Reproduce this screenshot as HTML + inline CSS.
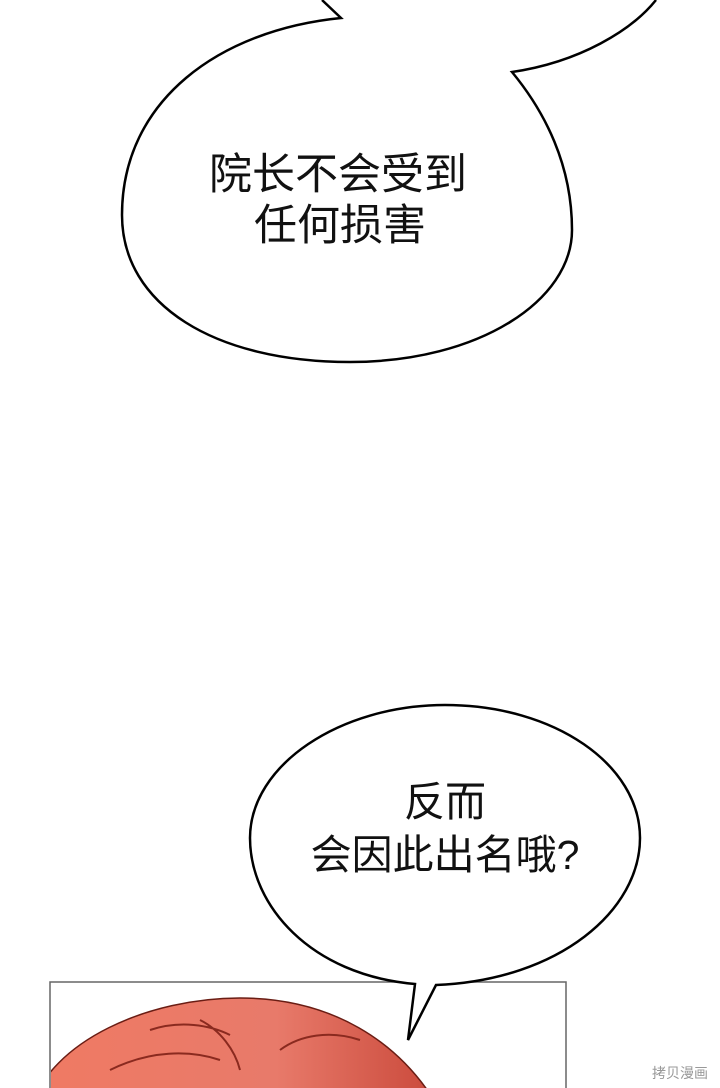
<!DOCTYPE html>
<html><head><meta charset="utf-8"><style>
html,body{margin:0;padding:0;background:#fff;}
svg{display:block}
text{font-family:"Liberation Sans","Noto Sans CJK SC",sans-serif;fill:#111;}
</style></head><body>
<svg width="720" height="1088" viewBox="0 0 720 1088" xmlns="http://www.w3.org/2000/svg">
<defs>
<linearGradient id="hair" x1="0" y1="0" x2="1" y2="0">
<stop offset="0" stop-color="#f07a63"/><stop offset="0.6" stop-color="#e87a6a"/><stop offset="1" stop-color="#c9483a"/>
</linearGradient>
</defs>
<rect width="720" height="1088" fill="#fff"/>
<path d="M 322 0 L 341 18 C 220 30 122 100 122 215 C 122 305 215 362 350 362 C 480 362 572 300 572 230 C 572 165 545 112 512 72 C 580 62 632 30 656 0" fill="#fff" stroke="#000" stroke-width="2.5"/>
<text x="338" y="189" font-size="43" text-anchor="middle">院长不会受到</text>
<text x="340" y="240" font-size="43" text-anchor="middle">任何损害</text>
<rect x="50" y="982" width="516" height="120" fill="#fff" stroke="#666" stroke-width="1.5"/>
<clipPath id="pc"><rect x="51" y="983" width="514" height="110"/></clipPath>
<g clip-path="url(#pc)">
<path d="M 30 1110 C 50 1040 150 998 240 998 C 330 998 400 1040 440 1110 Z" fill="url(#hair)" stroke="#6a1d14" stroke-width="1.5"/>
<path d="M 110 1070 C 150 1050 190 1050 220 1060 M 200 1020 C 220 1030 235 1050 240 1070 M 280 1050 C 300 1035 330 1030 360 1040 M 150 1030 C 180 1020 210 1025 230 1035" fill="none" stroke="#8a2a1f" stroke-width="2"/>
</g>
<path d="M 415 984 C 310 975 250 905 250 838 C 250 765 340 705 445 705 C 555 705 640 765 640 838 C 640 910 560 980 436 985 L 408 1040 Z" fill="#fff" stroke="#000" stroke-width="2.5"/>
<text x="445" y="816" font-size="41" text-anchor="middle">反而</text>
<text x="445" y="869" font-size="41" text-anchor="middle">会因此出名哦?</text>
<text x="680" y="1078" font-size="14" text-anchor="middle" style="fill:#999">拷贝漫画</text>
</svg>
</body></html>
